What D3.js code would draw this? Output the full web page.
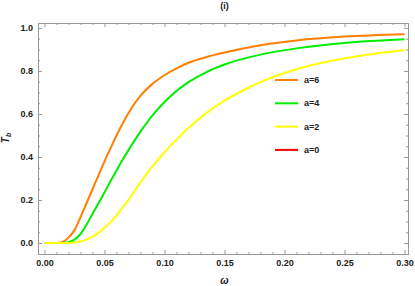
<!DOCTYPE html>
<html>
<head>
<meta charset="utf-8">
<script src="https://cdn.jsdelivr.net/npm/d3@7"></script>
<style>
  html, body { margin: 0; padding: 0; background: #fff; }
  svg { display: block; }
  text { font-family: "Liberation Sans", Arial, sans-serif; font-weight: bold; fill: #222; }
</style>
</head>
<body>
<svg id="chart" width="415" height="286"></svg>
<script>
// ---- data ----
const omegaA6 = [0, 0.010, 0.015, 0.020, 0.025, 0.030, 0.035, 0.040, 0.045, 0.050, 0.055, 0.060, 0.065, 0.070, 0.080, 0.090, 0.100, 0.110, 0.120, 0.135, 0.150, 0.180, 0.210, 0.250, 0.300];
const tA6     = [0, 0.000, 0.005, 0.025, 0.060, 0.120, 0.185, 0.250, 0.315, 0.380, 0.440, 0.500, 0.555, 0.605, 0.685, 0.740, 0.780, 0.812, 0.838, 0.865, 0.886, 0.920, 0.942, 0.960, 0.971];

const omegaA4 = [0, 0.015, 0.020, 0.025, 0.030, 0.035, 0.040, 0.045, 0.050, 0.055, 0.060, 0.065, 0.070, 0.075, 0.080, 0.085, 0.090, 0.095, 0.100, 0.110, 0.120, 0.135, 0.150, 0.180, 0.210, 0.250, 0.300];
const tA4     = [0, 0.000, 0.004, 0.016, 0.042, 0.085, 0.135, 0.185, 0.235, 0.287, 0.337, 0.386, 0.432, 0.476, 0.518, 0.557, 0.593, 0.626, 0.656, 0.707, 0.748, 0.795, 0.830, 0.876, 0.905, 0.930, 0.947];

const omegaA2 = [0, 0.020, 0.025, 0.030, 0.035, 0.040, 0.045, 0.050, 0.055, 0.060, 0.065, 0.070, 0.075, 0.080, 0.085, 0.090, 0.095, 0.100, 0.110, 0.120, 0.135, 0.150, 0.165, 0.180, 0.210, 0.250, 0.300];
const tA2     = [0, 0.000, 0.002, 0.007, 0.016, 0.030, 0.047, 0.070, 0.097, 0.128, 0.164, 0.201, 0.242, 0.282, 0.320, 0.356, 0.390, 0.422, 0.480, 0.535, 0.605, 0.662, 0.708, 0.748, 0.808, 0.859, 0.898];

const omegaA0 = [];   // a=0 curve is not visible in the reference
const tA0     = [];

const seriesNames  = ["a=6", "a=4", "a=2", "a=0"];
const seriesColors = ["#ff8000", "#00ee00", "#ffff00", "#ff0000"];
const xTickValues = [0, 0.05, 0.10, 0.15, 0.20, 0.25, 0.30];
const yTickValues = [0, 0.2, 0.4, 0.6, 0.8, 1.0];
const titleText = "(i)";

// ---- layout ----
const svg = d3.select("#chart");
const pL = 38, pR = 408, pT = 23, pB = 254;

const x = d3.scaleLinear().domain([-0.0054, 0.3029]).range([pL, pR]);
const y = d3.scaleLinear().domain([-0.051, 1.023]).range([pB, pT]);

const frameColor = "#999";

svg.append("defs").append("clipPath").attr("id", "clip")
  .append("rect").attr("x", pL).attr("y", pT).attr("width", pR - pL).attr("height", pB - pT);

const xMinor = d3.range(0, 0.3001, 0.01).filter(v => !xTickValues.some(t => Math.abs(t - v) < 1e-6));
const yMinor = d3.range(0, 1.0001, 0.05).filter(v => !yTickValues.some(t => Math.abs(t - v) < 1e-6));

function fmtX(v) { return d3.format(".2f")(v); }
function fmtY(v) { return d3.format(".1f")(v); }

const gB = svg.append("g").attr("transform", `translate(0,${pB})`)
  .call(d3.axisBottom(x).tickValues(xTickValues).tickFormat(fmtX).tickSizeInner(-4).tickSizeOuter(0).tickPadding(9));
gB.append("g").call(d3.axisBottom(x).tickValues(xMinor).tickFormat("").tickSizeInner(-2).tickSizeOuter(0));
const gT = svg.append("g").attr("transform", `translate(0,${pT})`)
  .call(d3.axisTop(x).tickValues(xTickValues).tickFormat("").tickSizeInner(-4).tickSizeOuter(0));
gT.append("g").call(d3.axisTop(x).tickValues(xMinor).tickFormat("").tickSizeInner(-2).tickSizeOuter(0));
const gL = svg.append("g").attr("transform", `translate(${pL},0)`)
  .call(d3.axisLeft(y).tickValues(yTickValues).tickFormat(fmtY).tickSizeInner(-4).tickSizeOuter(0).tickPadding(9));
gL.append("g").call(d3.axisLeft(y).tickValues(yMinor).tickFormat("").tickSizeInner(-2).tickSizeOuter(0));
const gR = svg.append("g").attr("transform", `translate(${pR},0)`)
  .call(d3.axisRight(y).tickValues(yTickValues).tickFormat("").tickSizeInner(-4).tickSizeOuter(0));
gR.append("g").call(d3.axisRight(y).tickValues(yMinor).tickFormat("").tickSizeInner(-2).tickSizeOuter(0));

[gB, gT, gL, gR].forEach(g => {
  g.selectAll(".domain").attr("stroke", frameColor);
  g.selectAll(".tick line").attr("stroke", frameColor);
  g.selectAll("text").attr("font-size", 9).attr("font-weight", "bold")
    .attr("font-family", "'Liberation Sans', Arial, sans-serif").attr("fill", "#222");
});
gL.selectAll(".tick text").attr("x", -5);
gB.selectAll(".tick text").attr("y", 6);

const data = [
  omegaA6.map((w, i) => [w, tA6[i]]),
  omegaA4.map((w, i) => [w, tA4[i]]),
  omegaA2.map((w, i) => [w, tA2[i]]),
  omegaA0.map((w, i) => [w, tA0[i]])
];
const line = d3.line().x(d => x(d[0])).y(d => y(d[1])).curve(d3.curveMonotoneX);
const gC = svg.append("g").attr("clip-path", "url(#clip)");
[3, 0, 1, 2].forEach(i => {
  if (data[i].length) {
    gC.append("path").datum(data[i]).attr("d", line)
      .attr("fill", "none").attr("stroke", seriesColors[i]).attr("stroke-width", 2);
  }
});

const legend = svg.append("g");
seriesNames.forEach((name, i) => {
  const ly = 80 + i * 23.3;
  legend.append("line").attr("x1", 275).attr("x2", 298).attr("y1", ly).attr("y2", ly)
    .attr("stroke", seriesColors[i]).attr("stroke-width", 2);
  legend.append("text").attr("x", 304).attr("y", ly).attr("dy", "0.35em")
    .attr("font-size", 9).text(name);
});

svg.append("text").attr("x", 224.5).attr("y", 9).attr("text-anchor", "middle")
  .attr("font-size", 9).text(titleText);

const yl = svg.append("text").attr("transform", "translate(9,138) rotate(-90)")
  .attr("text-anchor", "middle").attr("font-size", 10).attr("font-style", "italic");
yl.append("tspan").text("T");
yl.append("tspan").attr("font-size", 7).attr("dy", 2).text("b");

svg.append("text").attr("x", 224.5).attr("y", 284).attr("text-anchor", "middle")
  .attr("font-size", 10).attr("font-style", "italic").text("ω");
</script>
</body>
</html>
